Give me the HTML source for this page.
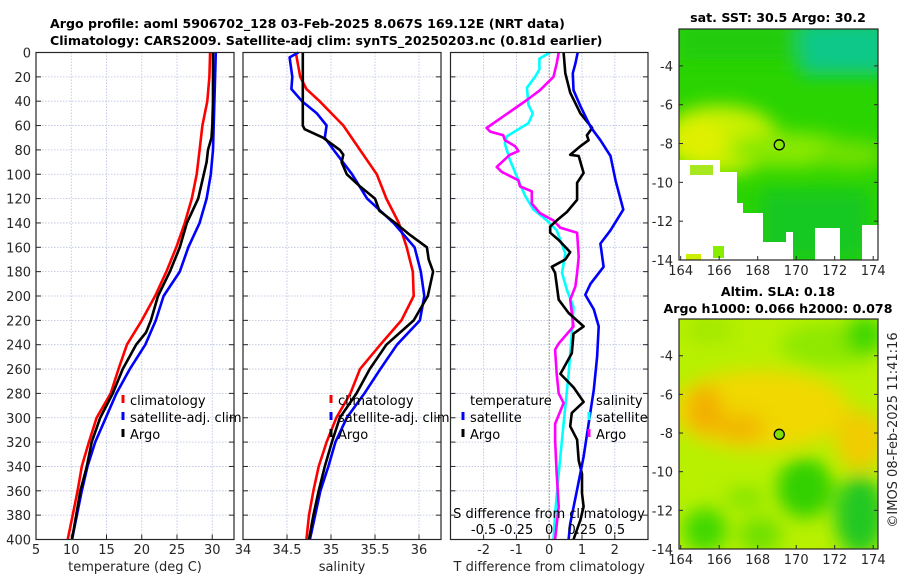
<!DOCTYPE html>
<html><head><meta charset="utf-8">
<style>
html,body{margin:0;padding:0;background:#fff;}
svg{display:block;font-family:"DejaVu Sans","Liberation Sans",sans-serif;}
</style></head>
<body>
<svg id="fig" width="900" height="580" viewBox="0 0 900 580" xmlns="http://www.w3.org/2000/svg">
<defs>
<filter id="blur8" x="-50%" y="-50%" width="200%" height="200%"><feGaussianBlur stdDeviation="9"/></filter>
<filter id="blur4" x="-50%" y="-50%" width="200%" height="200%"><feGaussianBlur stdDeviation="4"/></filter>
<clipPath id="clipSST"><rect x="679" y="29" width="199" height="231"/></clipPath>
<clipPath id="clipSLA"><rect x="679" y="319" width="199" height="230"/></clipPath>
</defs>
<g font-weight="bold" font-size="12.6" fill="#000">
<text x="50" y="28">Argo profile: aoml 5906702_128 03-Feb-2025 8.067S 169.12E (NRT data)</text>
<text x="50" y="45">Climatology: CARS2009. Satellite-adj clim: synTS_20250203.nc (0.81d earlier)</text>
</g>
<g id="panels"></g>
<g id="maps"></g>
</svg>
<script>
// ---------- data ----------
const depthTicks = [0,20,40,60,80,100,120,140,160,180,200,220,240,260,280,300,320,340,360,380,400];
const depthStd = [0,20,40,60,80,100,120,140,160,180,200,220,240,260,280,300,320,340,360,380,400];

const tempTicks = [5,10,15,20,25,30];
const tempClim = [29.7,29.6,29.3,28.6,28.2,27.8,27.1,26.1,24.9,23.5,21.9,20.0,17.9,16.7,15.6,13.6,12.5,11.5,10.9,10.2,9.5];
const tempSat  = [30.5,30.4,30.3,30.2,30.1,29.8,29.2,28.2,26.6,25.4,23.1,22.0,20.5,18.3,16.4,14.9,13.4,12.3,11.5,10.8,10.1];
const tempArgoDepth = [0,20,40,60,70,80,90,100,120,140,160,180,200,220,230,240,260,280,300,320,340,360,380,400];
const tempArgo = [30.1,30.1,30.1,30.0,29.9,29.4,29.2,28.8,28.0,26.4,25.4,24.0,22.3,21.3,20.6,19.2,17.3,15.9,14.1,12.9,12.2,11.3,10.7,10.1];

const salTicks = [34,34.5,35,35.5,36];
const salTickLabels = ["34","34.5","35","35.5","36"];
const salClimDepth = [0,20,30,40,60,80,100,120,140,160,180,200,220,240,260,280,300,320,340,360,380,400];
const salClim = [34.60,34.65,34.72,34.87,35.14,35.33,35.52,35.63,35.77,35.86,35.93,35.94,35.80,35.56,35.33,35.22,35.06,34.95,34.86,34.80,34.75,34.72];
const salSatDepth = [0,4,20,30,40,50,60,70,80,100,120,140,160,180,200,220,240,260,280,300,320,340,360,380,400];
const salSat = [34.63,34.53,34.56,34.55,34.67,34.84,34.95,34.93,35.03,35.24,35.41,35.71,35.95,36.02,36.06,36.01,35.75,35.56,35.38,35.18,35.05,34.97,34.88,34.82,34.76];
const salArgoDepth = [0,20,40,60,63,70,80,84,90,100,110,120,130,140,150,160,170,180,200,220,240,260,280,300,320,340,360,380,400];
const salArgo = [34.68,34.68,34.68,34.68,34.70,34.91,35.10,35.14,35.12,35.18,35.33,35.50,35.55,35.73,35.90,36.09,36.11,36.16,36.10,35.94,35.63,35.44,35.29,35.10,35.01,34.93,34.86,34.80,34.75];

const tdiffTicks = [-2,-1,0,1,2];
const sdiffTicks = [-0.5,-0.25,0,0.25,0.5];
const sdiffTickLabels = ["-0.5","-0.25","0","0.25","0.5"];
// S differences (plotted on the T axis at 4x scale), values in T-axis units
const sSatDepth = [0,5,14,20,29,43,50,58,69,75,88,105,118,129,138,146,165,181,195,209,231,264,291,318,346,379,400];
const sSatDiff = [0.03,-0.3,-0.3,-0.43,-0.68,-0.63,-0.5,-0.63,-1.3,-1.35,-1.2,-0.94,-0.73,-0.48,-0.07,0.23,0.49,0.39,0.54,0.74,0.69,0.59,0.49,0.39,0.29,0.18,0.13];
const sArgoDepth = [0,9,20,31,39,62,65,68,72,77,81,84,94,98,105,110,114,124,132,138,144,148,168,181,192,203,225,239,244,264,280,288,305,318,346,373,400];
const sArgoDiff = [0.29,0.23,0.13,-0.28,-0.68,-1.91,-1.8,-1.4,-1.35,-1.04,-0.94,-1.2,-1.6,-1.45,-0.94,-0.89,-0.53,-0.53,-0.28,0.13,0.34,0.85,0.9,0.85,0.8,0.64,0.74,0.29,0.18,0.23,0.29,0.44,0.18,0.18,0.23,0.29,0.18];
const tArgoDepth = [0,17,33,50,62,68,72,77,84,85,99,107,121,131,138,143,148,154,164,170,176,181,203,214,225,231,247,264,275,287,296,307,318,335,346,362,373,384,400];
const tArgoDiff = [0.44,0.49,0.64,0.95,1.31,1.15,1.2,0.95,0.64,0.9,1.05,0.85,0.85,0.54,0.23,0.03,0.03,0.29,0.64,0.49,0.08,0.18,0.29,0.59,1.05,0.74,0.69,0.34,0.74,1.05,0.69,0.64,0.85,0.9,1.0,1.0,1.05,0.95,0.74];
const tSatDepth = [0,9,17,31,44,61,72,85,105,129,146,157,176,190,199,211,225,250,277,305,332,359,387,400];
const tSatDiff = [0.87,0.8,0.72,0.74,0.95,1.26,1.56,1.87,2.02,2.26,1.87,1.56,1.66,1.26,1.1,1.36,1.51,1.46,1.36,1.2,1.05,0.85,0.64,0.59];

const lonTicks = [164,166,168,170,172,174];
const latTicks = [-4,-6,-8,-10,-12,-14];
const argoLon = 169.12, argoLat = -8.067;

// ---------- helpers ----------
const NS = "http://www.w3.org/2000/svg";
function mk(tag, attrs, parent, text){
  const e = document.createElementNS(NS, tag);
  for (const k in attrs) e.setAttribute(k, attrs[k]);
  if (text !== undefined) e.textContent = text;
  parent.appendChild(e);
  return e;
}
const panels = document.getElementById('panels');
const maps = document.getElementById('maps');
const Y0 = 52.5, Y1 = 539.5;
const yD = d => Y0 + (d/400)*(Y1-Y0);

function axesFrame(name, x0, x1, xTicksVals, xs, xLabels, gridVals, showY, xTitle){
  const g = mk('g', {}, panels);
  
  
  const grid = mk('g', {stroke:'#b8c0e0','stroke-width':0.8,'stroke-dasharray':'1.5,1.5'}, g);
  
  
  depthTicks.forEach(d => { if (d>0 && d<400) mk('line',{x1:x0,x2:x1,y1:yD(d),y2:yD(d)},grid); });
  gridVals.forEach(v => { const x = xs(v); if (x>x0+1 && x<x1-1) mk('line',{x1:x,x2:x,y1:Y0,y2:Y1},grid); });
  const tk = mk('g',{stroke:'#262626','stroke-width':1},g);
  depthTicks.forEach(d => {
    mk('line',{x1:x0,x2:x0+5,y1:yD(d),y2:yD(d)},tk);
    mk('line',{x1:x1,x2:x1-5,y1:yD(d),y2:yD(d)},tk);
  });
  xTicksVals.forEach(v => { const x = xs(v); mk('line',{x1:x,x2:x,y1:Y1,y2:Y1-5},tk); });
  if (showY){
    const yl = mk('g',{'font-size':13,fill:'#262626','text-anchor':'end'},g);
    
    
    depthTicks.forEach(d => mk('text',{x:31,y:yD(d)+5},yl,String(d)));
  }
  const xl = mk('g',{'font-size':13,fill:'#262626','text-anchor':'middle'},g);
  
  
  xTicksVals.forEach((v,i) => mk('text',{x:xs(v),y:554},xl,xLabels[i]));
  const t = mk('text',{x:(x0+x1)/2,y:571,'font-size':13,fill:'#262626','text-anchor':'middle'},g,xTitle);
  
  
  return g;
}
function frameBox(g, x0, x1){
  const r = mk('rect',{x:x0,y:Y0,width:x1-x0,height:Y1-Y0,fill:'none',stroke:'#262626','stroke-width':1.2},g);
  
  
}
function line(g, name, vals, depths, xs, color){
  const pts = vals.map((v,i) => xs(v).toFixed(1)+','+yD(depths[i]).toFixed(1)).join(' ');
  const p = mk('polyline',{points:pts,fill:'none',stroke:color,'stroke-width':2.6,'stroke-linejoin':'round'},g);
  
  
}
function legendEntry(g, name, x, y, color, label){
  const e = mk('g',{},g);
  
  
  if (color) mk('line',{x1:x,x2:x,y1:y-10,y2:y-2,stroke:color,'stroke-width':3},e);
  mk('text',{x:x+7,y:y,'font-size':13,fill:'#000'},e,label);
}

// ---------- panel 1: temperature ----------
(function(){
  const x0=36, x1=234;
  const xs = v => 36 + (v-5)*7.05;
  const g = axesFrame('temperature-panel', x0, x1, tempTicks, xs, tempTicks.map(String), tempTicks, true, 'temperature (deg C)');
  line(g,'temp-climatology-line',tempClim,depthStd,xs,'#ff0000');
  line(g,'temp-satellite-line',tempSat,depthStd,xs,'#0000ff');
  line(g,'temp-argo-line',tempArgo,tempArgoDepth,xs,'#000000');
  const lg = mk('g',{},g);
  
  
  legendEntry(lg,'legend-climatology',123,405,'#ff0000','climatology');
  legendEntry(lg,'legend-satellite-adj-clim',123,422,'#0000ff','satellite-adj. clim');
  legendEntry(lg,'legend-argo',123,439,'#000000','Argo');
  frameBox(g,x0,x1);
})();

// ---------- panel 2: salinity ----------
(function(){
  const x0=243, x1=441;
  const xs = v => 243 + (v-34)*88;
  const g = axesFrame('salinity-panel', x0, x1, salTicks, xs, salTickLabels, salTicks, false, 'salinity');
  line(g,'sal-climatology-line',salClim,salClimDepth,xs,'#ff0000');
  line(g,'sal-satellite-line',salSat,salSatDepth,xs,'#0000ff');
  line(g,'sal-argo-line',salArgo,salArgoDepth,xs,'#000000');
  const lg = mk('g',{},g);
  
  
  legendEntry(lg,'legend-climatology',331,405,'#ff0000','climatology');
  legendEntry(lg,'legend-satellite-adj-clim',331,422,'#0000ff','satellite-adj. clim');
  legendEntry(lg,'legend-argo',331,439,'#000000','Argo');
  frameBox(g,x0,x1);
})();

// ---------- panel 3: differences ----------
(function(){
  const x0=450.5, x1=648;
  const xs = v => 549.2 + v*32.8;
  const xsS = v => xs(v*4);
  const g = axesFrame('difference-panel', x0, x1, tdiffTicks, xs, tdiffTicks.map(String), tdiffTicks, false, 'T difference from climatology');
  const zl = mk('line',{x1:xs(0),x2:xs(0),y1:Y0,y2:Y1,stroke:'#555533','stroke-width':1,'stroke-dasharray':'1,2'},g);
  
  
  line(g,'s-satellite-diff-line',sSatDiff,sSatDepth,xs,'#00ffff');
  line(g,'s-argo-diff-line',sArgoDiff,sArgoDepth,xs,'#ff00ff');
  line(g,'t-argo-diff-line',tArgoDiff,tArgoDepth,xs,'#000000');
  line(g,'t-satellite-diff-line',tSatDiff,tSatDepth,xs,'#0000ff');
  const lg = mk('g',{},g);
  
  
  mk('text',{x:470,y:405,'font-size':13,fill:'#000'},lg,'temperature');
  legendEntry(lg,'legend-t-satellite',463,422,'#0000ff','satellite');
  legendEntry(lg,'legend-t-argo',463,439,'#000000','Argo');
  mk('text',{x:596,y:405,'font-size':13,fill:'#000'},lg,'salinity');
  legendEntry(lg,'legend-s-satellite',589,422,'#00ffff','satellite');
  legendEntry(lg,'legend-s-argo',589,439,'#ff00ff','Argo');
  const sa = mk('g',{'font-size':13,fill:'#000','text-anchor':'middle'},g);
  
  
  mk('text',{x:549,y:518},sa,'S difference from climatology');
  sdiffTicks.forEach((v,i) => mk('text',{x:xsS(v),y:534},sa,sdiffTickLabels[i]));
  frameBox(g,x0,x1);
})();

// ---------- maps ----------
function mapAxes(name, top, bottom, latTop){
  const x0=679, x1=878;
  const lx = lon => 680.7 + (lon-164)*19.25;
  const ly = lat => top + (latTop - lat)*((bottom-top)/(latTop+14));
  const g = mk('g',{},maps);
  
  
  const tk = mk('g',{stroke:'#262626','stroke-width':1},g);
  lonTicks.forEach(l => { mk('line',{x1:lx(l),x2:lx(l),y1:bottom,y2:bottom-4},tk); });
  latTicks.forEach(l => { mk('line',{x1:x0,x2:x0+4,y1:ly(l),y2:ly(l)},tk); mk('line',{x1:x1,x2:x1-4,y1:ly(l),y2:ly(l)},tk); });
  const tl = mk('g',{'font-size':13,fill:'#262626'},g);
  lonTicks.forEach(l => mk('text',{x:lx(l),y:bottom+15,'text-anchor':'middle'},tl,String(l)));
  latTicks.forEach(l => mk('text',{x:673,y:ly(l)+5,'text-anchor':'end'},tl,String(l)));
  mk('rect',{x:x0,y:top,width:x1-x0,height:bottom-top,fill:'none',stroke:'#262626','stroke-width':1.2},g);
  return {lx, ly};
}

// SST map
(function(){
  const g = mk('g',{'clip-path':'url(#clipSST)'},maps);
  
  
  mk('rect',{x:679,y:29,width:199,height:231,fill:'#2ad400'},g);
  const b = mk('g',{filter:'url(#blur8)'},g);
  mk('rect',{x:800,y:20,width:90,height:55,fill:'#10c888'},b);
  mk('rect',{x:679,y:20,width:120,height:40,fill:'#22cc10'},b);
  mk('ellipse',{cx:720,cy:140,rx:60,ry:35,fill:'#c8f000'},b);
  mk('ellipse',{cx:790,cy:150,rx:60,ry:18,fill:'#88e800'},b);
  mk('ellipse',{cx:850,cy:155,rx:35,ry:15,fill:'#70e000'},b);
  mk('ellipse',{cx:700,cy:140,rx:25,ry:20,fill:'#e0f000'},b);
  mk('rect',{x:760,y:190,width:110,height:70,fill:'#18c820'},b);
  // white no-data region
  mk('polygon',{points:'679,160 720,160 720,172 737,172 737,203 743,203 743,213 763,213 763,242 790,242 790,260 679,260',fill:'#fff'},g);
  mk('rect',{x:815,y:228,width:25,height:32,fill:'#fff'},g);
  mk('rect',{x:862,y:225,width:16,height:35,fill:'#fff'},g);
  mk('rect',{x:786,y:232,width:7,height:28,fill:'#fff'},g);
  mk('rect',{x:690,y:165,width:23,height:10,fill:'#a8e820'},g);
  mk('rect',{x:686,y:254,width:15,height:6,fill:'#ccee00'},g);
  mk('rect',{x:713,y:246,width:11,height:12,fill:'#88ee00'},g);
})();
const sst = mapAxes('sst-map', 29, 260, -2.1);
(function(){
  const c = mk('circle',{cx:sst.lx(argoLon),cy:sst.ly(argoLat),r:5,fill:'none',stroke:'#000','stroke-width':1.3},maps);
  
  
  const t = mk('text',{x:778,y:22,'font-size':12.6,'font-weight':'bold','text-anchor':'middle'},maps,'sat. SST: 30.5 Argo: 30.2');
  
  
})();

// SLA map
(function(){
  const g = mk('g',{'clip-path':'url(#clipSLA)'},maps);
  
  
  mk('rect',{x:679,y:319,width:199,height:230,fill:'#b8f000'},g);
  const b = mk('g',{filter:'url(#blur8)'},g);
  mk('ellipse',{cx:760,cy:410,rx:90,ry:40,fill:'#f0d800'},b);
  mk('ellipse',{cx:705,cy:410,rx:18,ry:25,fill:'#f2b000'},b);
  mk('ellipse',{cx:740,cy:428,rx:25,ry:15,fill:'#f2b800'},b);
  mk('ellipse',{cx:860,cy:440,rx:25,ry:30,fill:'#f0cc00'},b);
  mk('ellipse',{cx:830,cy:345,rx:50,ry:22,fill:'#8ee800'},b);
  mk('ellipse',{cx:865,cy:335,rx:20,ry:20,fill:'#40d800'},b);
  mk('ellipse',{cx:710,cy:330,rx:25,ry:12,fill:'#a0e800'},b);
  mk('ellipse',{cx:805,cy:488,rx:28,ry:30,fill:'#30d000'},b);
  mk('ellipse',{cx:860,cy:515,rx:25,ry:40,fill:'#20c820'},b);
  mk('ellipse',{cx:705,cy:530,rx:22,ry:22,fill:'#40d800'},b);
  mk('ellipse',{cx:760,cy:535,rx:22,ry:18,fill:'#70e000'},b);
  mk('ellipse',{cx:745,cy:498,rx:20,ry:10,fill:'#80e400'},b);
})();
const sla = mapAxes('sla-map', 319, 549, -2.1);
(function(){
  const c = mk('circle',{cx:sla.lx(argoLon),cy:sla.ly(argoLat),r:5,fill:'#7fe000',stroke:'#000','stroke-width':1.3},maps);
  
  
  const t1 = mk('text',{x:778,y:296,'font-size':12.6,'font-weight':'bold','text-anchor':'middle'},maps,'Altim. SLA: 0.18');
  
  
  const t2 = mk('text',{x:778,y:313,'font-size':12.6,'font-weight':'bold','text-anchor':'middle'},maps,'Argo h1000: 0.066 h2000: 0.078');
  
  
  const t3 = mk('text',{x:0,y:0,'font-size':13,fill:'#262626','text-anchor':'middle',transform:'translate(897,430) rotate(-90)'},maps,'©IMOS 08-Feb-2025 11:41:16');
  
  
})();
</script>
</body></html>
